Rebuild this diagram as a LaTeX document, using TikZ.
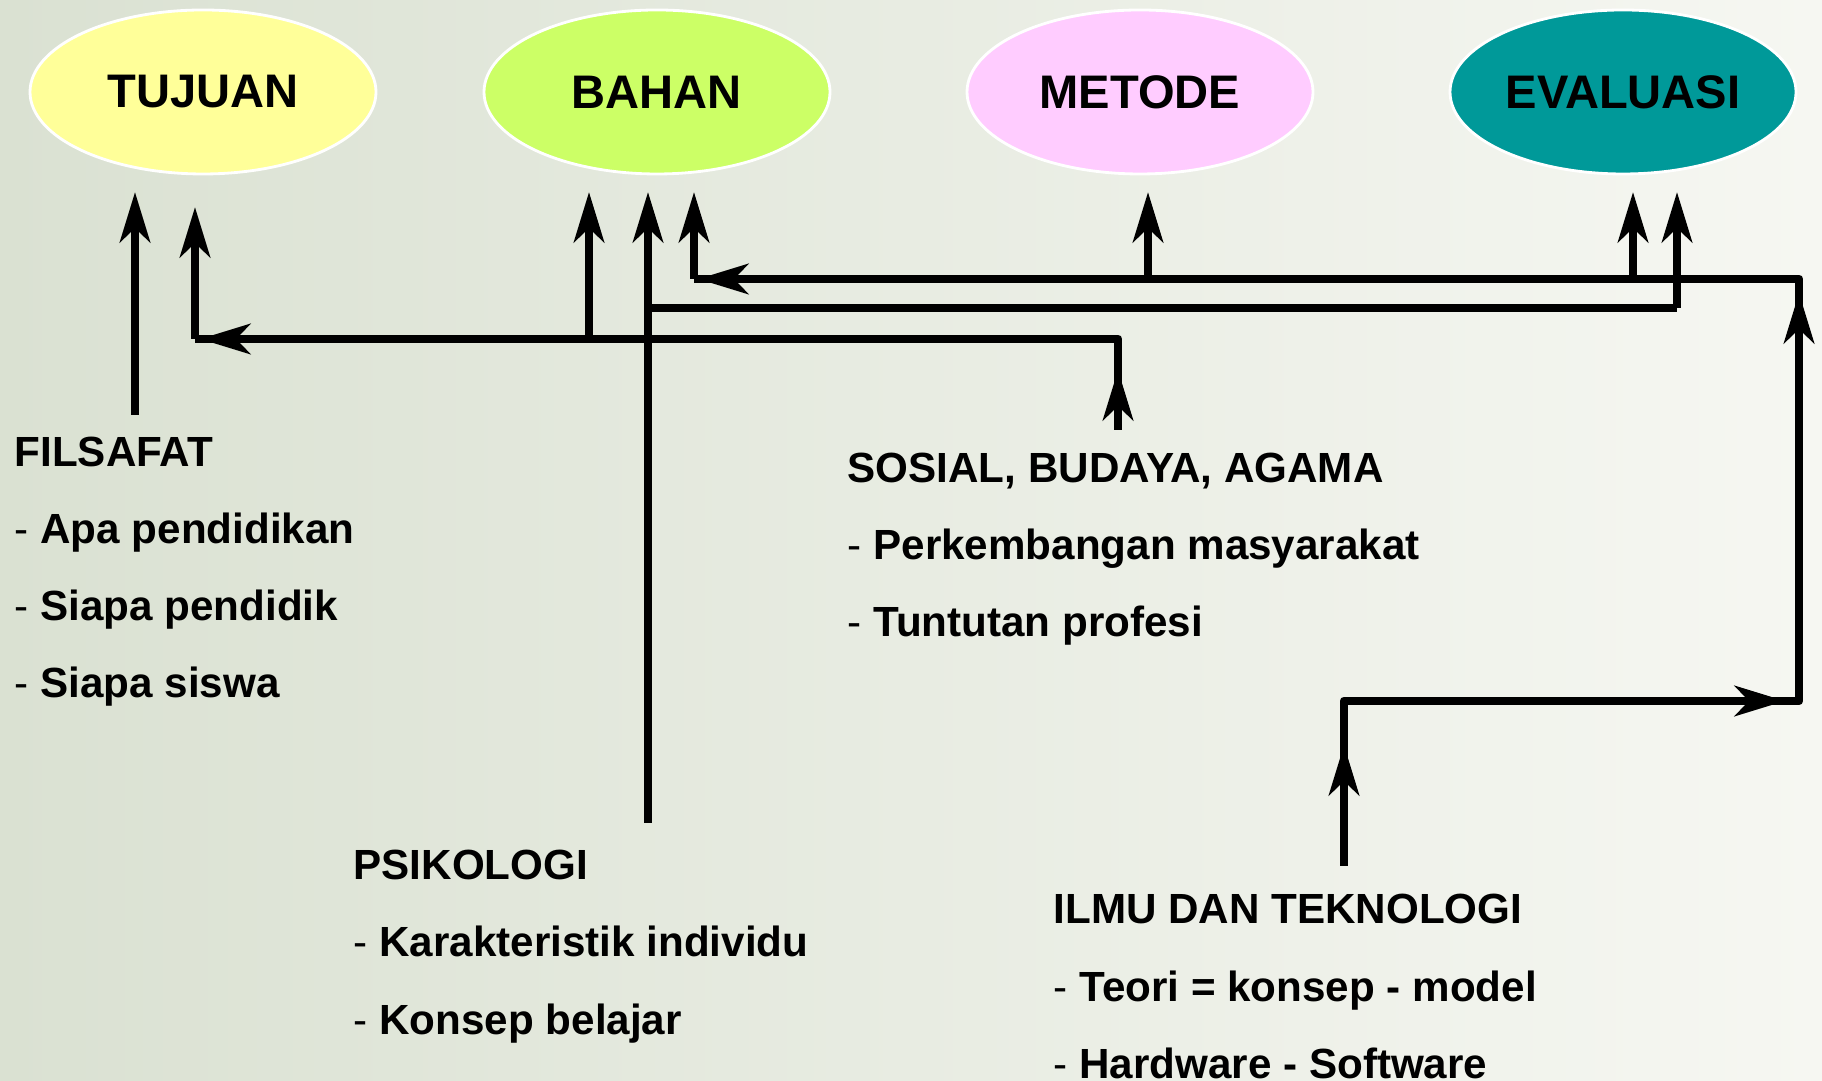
\documentclass[tikz,border=0pt]{standalone}
\usepackage{fontspec}
\setmainfont{Liberation Sans}
\usetikzlibrary{arrows.meta,shapes.geometric,positioning}

\definecolor{bgl}{RGB}{218,225,210}
\definecolor{bgr}{RGB}{246,247,242}
\definecolor{tujuanc}{HTML}{FFFF99}
\definecolor{bahanc}{HTML}{CCFF66}
\definecolor{metodec}{HTML}{FFCCFF}
\definecolor{evalc}{HTML}{009999}

\tikzset{
  topic/.style={ellipse, draw=white, line width=0.8pt, inner sep=0pt, minimum width=3.46cm,
    minimum height=1.64cm, font=\fontsize{13.4}{16}\selectfont\bfseries},
  head/.style={anchor=base west, inner sep=0pt, font=\fontsize{12}{14}\selectfont\bfseries},
  item/.style={head},
  wire/.style={line width=2.5pt, line join=round},
  pointer/.style={-{Stealth[length=5mm,width=3mm,inset=1.4mm]}},
}

\begin{document}
\begin{tikzpicture}
\shade[left color=bgl, right color=bgr] (0,0) rectangle (18.22,-10.81);
\useasboundingbox (0,0) rectangle (18.22,-10.81);

% the four parts
\node[topic, fill=tujuanc] (tujuan) at (2.03,-0.92) {TUJUAN};
\node[topic, fill=bahanc] (bahan) at (6.57,-0.92) {BAHAN};
\node[topic, fill=metodec] (metode) at (11.40,-0.92) {METODE};
\node[topic, fill=evalc] (evaluasi) at (16.23,-0.92) {EVALUASI};

% the four foundations
\node[head] (filsafat) at (0.14,-4.67) {FILSAFAT};
\foreach \t [count=\i] in {Apa pendidikan, Siapa pendidik, Siapa siswa}
  \node[item] (filsafat\i) at ([yshift=-\i*0.77cm]filsafat.base west) {\textmd{-} \t};

\node[head] (sosial) at (8.47,-4.83) {SOSIAL, BUDAYA, AGAMA};
\foreach \t [count=\i] in {Perkembangan masyarakat, Tuntutan profesi}
  \node[item] (sosial\i) at ([yshift=-\i*0.77cm]sosial.base west) {\textmd{-} \t};

\node[head] (psikologi) at (3.53,-8.80) {PSIKOLOGI};
\foreach \t [count=\i] in {Karakteristik individu, Konsep belajar}
  \node[item] (psikologi\i) at ([yshift=-\i*0.77cm]psikologi.base west) {\textmd{-} \t};

\node[head] (ilmu) at (10.53,-9.24) {ILMU DAN TEKNOLOGI};
\foreach \t [count=\i] in {Teori = konsep - model, Hardware - Software}
  \node[item] (ilmu\i) at ([yshift=-\i*0.77cm]ilmu.base west) {\textmd{-} \t};

% arrow tips under the ellipses
\coordinate (tA) at (1.35,-1.92);
\coordinate (tB) at (1.95,-2.07);
\coordinate (bA) at (5.89,-1.92);
\coordinate (bB) at (6.48,-1.92);
\coordinate (bC) at (6.94,-1.92);
\coordinate (mA) at (11.48,-1.92);
\coordinate (eA) at (16.33,-1.92);
\coordinate (eB) at (16.77,-1.92);

% corners
\coordinate (f0) at (1.35,-4.15);
\coordinate (s0) at (11.18,-4.30);
\coordinate (s1) at (11.18,-3.39);
\coordinate (s2) at (1.95,-3.39);
\coordinate (p0) at (6.48,-8.23);
\coordinate (p2) at (16.77,-3.08);
\coordinate (i0) at (13.44,-8.66);
\coordinate (i1) at (13.44,-7.01);
\coordinate (i2) at (17.99,-7.01);
\coordinate (i3) at (17.99,-2.79);
\coordinate (i4) at (6.94,-2.79);

% filsafat
\draw[wire, pointer] (f0) -- (tA);

% sosial, budaya, agama
\draw[wire] (s0) -- (s1) -- (s2);
\draw[wire, pointer] (s0) -- ([yshift=-0.31cm]s1);
\draw[wire, pointer] (s1) -- ([xshift=0.05cm]s2);
\draw[wire, pointer] (s2) -- (tB);
\draw[wire, pointer] (bA |- s2) -- (bA);

% psikologi
\draw[wire, pointer] (p0) -- (bB);
\draw[wire] (bB |- p2) -- (p2);
\draw[wire, pointer] (p2) -- (eB);

% ilmu dan teknologi
\draw[wire] (i0) -- (i1) -- (i2) -- (i3) -- (i4);
\draw[wire, pointer] (i0) -- ([yshift=-0.44cm]i1);
\draw[wire, pointer] (i1) -- ([xshift=-0.14cm]i2);
\draw[wire, pointer] (i2) -- ([yshift=-0.14cm]i3);
\draw[wire, pointer] (i3) -- ([xshift=0.04cm]i4);
\draw[wire, pointer] (i4) -- (bC);
\draw[wire, pointer] (mA |- i3) -- (mA);
\draw[wire, pointer] (eA |- i3) -- (eA);
\end{tikzpicture}
\end{document}
